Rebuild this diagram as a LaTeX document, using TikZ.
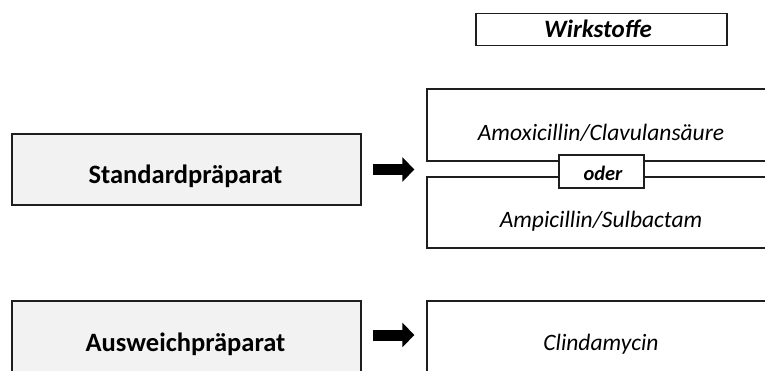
\documentclass[tikz,border=0pt]{standalone}
\usepackage{fontspec}
\setmainfont{Carlito}
\usetikzlibrary{arrows.meta}
\definecolor{boxgray}{RGB}{242,242,242}
\definecolor{boxline}{RGB}{30,30,30}

\tikzset{
  box/.style={draw=boxline,line width=1.3pt,inner sep=0pt,minimum width=348pt,minimum height=71pt},
  graybox/.style={box,fill=boxgray},
  smallbox/.style={draw=boxline,line width=1.3pt,inner sep=0pt,fill=white},
  prepname/.style={anchor=base,font=\fontsize{26.5}{30}\selectfont\bfseries},
  drugname/.style={anchor=base,font=\fontsize{23.5}{27}\selectfont\itshape},
  bigarrow/.style={line width=11pt,-{Triangle[length=12pt,width=24pt]},shorten <=11pt,shorten >=12pt}
}

\begin{document}
\begin{tikzpicture}[x=1pt,y=-1pt]
  \useasboundingbox (0,0) rectangle (765,370);
  \clip (0,0) rectangle (765,370);
  \coordinate (c_std) at (186.5,169.5);
  \coordinate (c_aus) at (186.5,336.5);
  \coordinate (c_amox) at (601,125);
  \coordinate (c_amp) at (601,212.5);
  \coordinate (c_clin) at (601,336.5);
  % boxes
  \node[smallbox,minimum width=251pt,minimum height=32pt] (wirk) at (601.5,29.5) {};
  \node[graybox,minimum width=349pt] (std) at (c_std) {};
  \node[graybox,minimum width=349pt] (aus) at (c_aus) {};
  \node[box,minimum height=72pt] (amox) at (c_amox) {};
  \node[box] (amp) at (c_amp) {};
  \node[box] (clin) at (c_clin) {};
  \node[smallbox,minimum width=85pt,minimum height=33pt] (oder) at (601.5,171.5) {};
  % texts
  \node[anchor=base,font=\fontsize{25}{29}\selectfont\bfseries\itshape] (wirk_t) at (598,37) {Wirkstoffe};
  \node[prepname] (std_t) at (185.5,183) {Standardpräparat};
  \node[prepname] (aus_t) at (185.5,351) {Ausweichpräparat};
  \node[drugname] (amox_t) at (601,140) {Amoxicillin/Clavulansäure};
  \node[drugname] (amp_t) at (601,227) {Ampicillin/Sulbactam};
  \node[drugname] (clin_t) at (601,350) {Clindamycin};
  \node[anchor=base,font=\fontsize{20.5}{24}\selectfont\bfseries\itshape] (oder_t) at (603,180) {oder};
  % arrows
  \draw[bigarrow] (std.east) -- (std.east -| amox.west);
  \draw[bigarrow] ([yshift=1.5pt]aus.east) -- ([yshift=1.5pt]aus.east -| clin.west);
\end{tikzpicture}
\end{document}
